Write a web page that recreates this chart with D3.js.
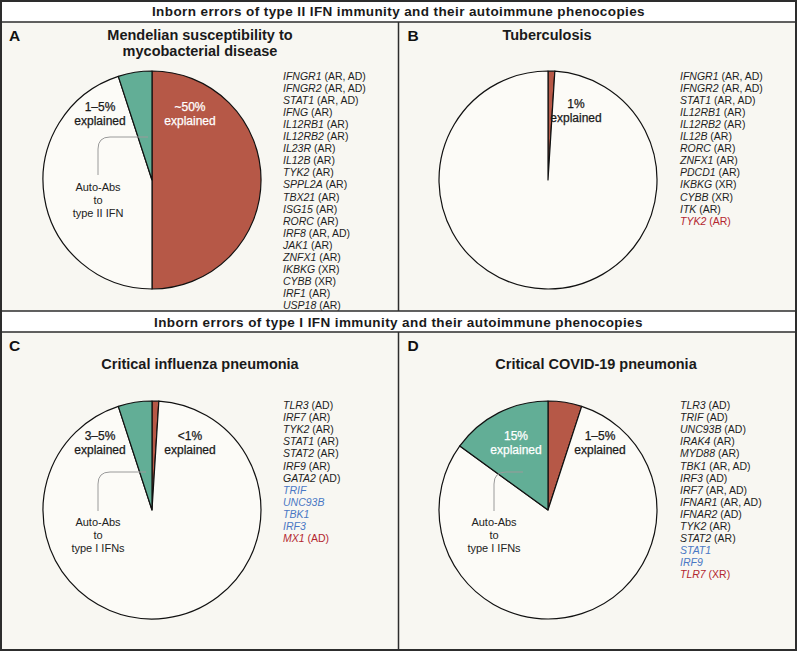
<!DOCTYPE html>
<html><head><meta charset="utf-8">
<script src="https://cdn.jsdelivr.net/npm/d3@7"></script>
<style>
body{margin:0;background:#fff;}
svg{display:block;font-family:"Liberation Sans",Arial,sans-serif;}
</style></head>
<body>
<svg id="chart" width="797" height="651"></svg>
<script>
// ---- DATA ----
const sectionHeaders = [
  "Inborn errors of type II IFN immunity and their autoimmune phenocopies",
  "Inborn errors of type I IFN immunity and their autoimmune phenocopies"
];
const panelLetters = ["A", "B", "C", "D"];
const panelTitles = [
  ["Mendelian susceptibility to", "mycobacterial disease"],
  ["Tuberculosis"],
  ["Critical influenza pneumonia"],
  ["Critical COVID-19 pneumonia"]
];
// slices in clockwise order from 12 o'clock: inborn errors (red), unexplained (white), auto-Abs (teal)
const sliceKeys = ["inborn", "unexplained", "autoAbs"];
const valuesA = [50, 45, 5];
const valuesB = [1, 99, 0];
const valuesC = [1, 94, 5];
const valuesD = [5, 80, 15];
const sliceLabelsA = [["~50%", "explained"], null, ["1–5%", "explained"]];
const sliceLabelsB = [["1%", "explained"], null, null];
const sliceLabelsC = [["<1%", "explained"], null, ["3–5%", "explained"]];
const sliceLabelsD = [["1–5%", "explained"], null, ["15%", "explained"]];
const autoAbsLabels = [["Auto-Abs", "to", "type II IFN"], null, ["Auto-Abs", "to", "type I IFNs"], ["Auto-Abs", "to", "type I IFNs"]];
// gene lists: [gene, inheritance, colour class]
const genesA = [
  ["IFNGR1","AR, AD","k"],["IFNGR2","AR, AD","k"],["STAT1","AR, AD","k"],["IFNG","AR","k"],
  ["IL12RB1","AR","k"],["IL12RB2","AR","k"],["IL23R","AR","k"],["IL12B","AR","k"],
  ["TYK2","AR","k"],["SPPL2A","AR","k"],["TBX21","AR","k"],["ISG15","AR","k"],
  ["RORC","AR","k"],["IRF8","AR, AD","k"],["JAK1","AR","k"],["ZNFX1","AR","k"],
  ["IKBKG","XR","k"],["CYBB","XR","k"],["IRF1","AR","k"],["USP18","AR","k"]
];
const genesB = [
  ["IFNGR1","AR, AD","k"],["IFNGR2","AR, AD","k"],["STAT1","AR, AD","k"],["IL12RB1","AR","k"],
  ["IL12RB2","AR","k"],["IL12B","AR","k"],["RORC","AR","k"],["ZNFX1","AR","k"],
  ["PDCD1","AR","k"],["IKBKG","XR","k"],["CYBB","XR","k"],["ITK","AR","k"],["TYK2","AR","r"]
];
const genesC = [
  ["TLR3","AD","k"],["IRF7","AR","k"],["TYK2","AR","k"],["STAT1","AR","k"],
  ["STAT2","AR","k"],["IRF9","AR","k"],["GATA2","AD","k"],["TRIF","","b"],
  ["UNC93B","","b"],["TBK1","","b"],["IRF3","","b"],["MX1","AD","r"]
];
const genesD = [
  ["TLR3","AD","k"],["TRIF","AD","k"],["UNC93B","AD","k"],["IRAK4","AR","k"],
  ["MYD88","AR","k"],["TBK1","AR, AD","k"],["IRF3","AD","k"],["IRF7","AR, AD","k"],
  ["IFNAR1","AR, AD","k"],["IFNAR2","AD","k"],["TYK2","AR","k"],["STAT2","AR","k"],
  ["STAT1","","b"],["IRF9","","b"],["TLR7","XR","r"]
];

// ---- STYLE / LAYOUT ----
const sliceColors = {inborn:"#b65847", unexplained:"#fcfbf7", autoAbs:"#62ae96"};
const textColors = {k:"#1e1e1e", b:"#4a78c4", r:"#b3262f"};
const bg = "#f8f7f2", lineCol = "#2d2d2d";
const W = 797, H = 651, midX = 398.5;
const bands = [{y:0, h:22}, {y:311, h:21}];
const panels = [
  {x0:0, x1:midX, y0:22, y1:311, cx:152, cy:180, titleX:200, titleY:[35,51], vals:valuesA, sl:sliceLabelsA,
   slPos:[[190,107],null,[100,107]], ab:autoAbsLabels[0], abGeo:{x1:148,y1:137,x2:98,y2:175,ty:187}, genes:genesA, gx:283, gy:79.5},
  {x0:midX, x1:W, y0:22, y1:311, cx:548, cy:180, titleX:547, titleY:[35], vals:valuesB, sl:sliceLabelsB,
   slPos:[[576,104],null,null], ab:null, genes:genesB, gx:680, gy:79.5},
  {x0:0, x1:midX, y0:332, y1:H, cx:152, cy:510, titleX:200, titleY:[364], vals:valuesC, sl:sliceLabelsC,
   slPos:[[190,436],null,[100,436]], ab:autoAbsLabels[2], abGeo:{x1:146,y1:472,x2:98,y2:511,ty:522}, genes:genesC, gx:283, gy:409},
  {x0:midX, x1:W, y0:332, y1:H, cx:548, cy:510, titleX:596, titleY:[364], vals:valuesD, sl:sliceLabelsD,
   slPos:[[600,436],null,[516,436]], ab:autoAbsLabels[3], abGeo:{x1:523,y1:472,x2:494,y2:511,ty:522}, genes:genesD, gx:680, gy:409}
];
const R = 109;

const svg = d3.select("#chart");
svg.append("rect").attr("width",W).attr("height",H).attr("fill",bg);

// header bands
bands.forEach((b,i)=>{
  svg.append("rect").attr("x",0).attr("y",b.y).attr("width",W).attr("height",b.h).attr("fill","#fff");
  svg.append("text").attr("x",W/2).attr("y",b.y+b.h/2+5).attr("text-anchor","middle")
    .attr("font-weight","bold").attr("font-size",13.5).attr("letter-spacing",0.4).attr("fill","#1a1a1a")
    .text(sectionHeaders[i]);
});

const pie = d3.pie().sort(null).value(d=>d);
const arc = d3.arc().innerRadius(0).outerRadius(R);

panels.forEach((p,pi)=>{
  const g = svg.append("g");
  g.append("text").attr("x",p.x0+9).attr("y",p.y0+19).attr("font-weight","bold").attr("font-size",15.5)
    .attr("fill","#111").text(panelLetters[pi]);
  panelTitles[pi].forEach((t,i)=>{
    g.append("text").attr("x",p.titleX).attr("y",p.titleY[i]+5).attr("text-anchor","middle")
      .attr("font-weight","bold").attr("font-size",14.5).attr("fill","#1a1a1a").text(t);
  });
  const pg = g.append("g").attr("transform",`translate(${p.cx},${p.cy})`);
  const arcs = pie(p.vals);
  pg.selectAll("path").data(arcs.filter(a=>a.data>0)).join("path")
    .attr("d",arc).attr("fill",(d)=>sliceColors[sliceKeys[d.index]])
    .attr("stroke","#111").attr("stroke-width",1.2).attr("stroke-linejoin","round");
  // slice labels
  p.sl.forEach((lab,i)=>{
    if(!lab) return;
    const [lx,ly] = p.slPos[i];
    const col = (i===0 && pi===0) || (i===2 && pi===3) ? "#fff" : "#1a1a1a";
    lab.forEach((t,j)=>{
      g.append("text").attr("x",lx).attr("y",ly+j*13.5+4).attr("text-anchor","middle")
        .attr("font-size",12).attr("fill",col)
        .attr("stroke",col).attr("stroke-width",0.25).text(t);
    });
  });
  // auto-abs callout
  if(p.ab){
    const a = p.abGeo, rr = 12;
    g.append("path").attr("d",`M${a.x1},${a.y1} H${a.x2+rr} Q${a.x2},${a.y1} ${a.x2},${a.y1+rr} V${a.y2}`)
      .attr("fill","none").attr("stroke","#9a9a9a").attr("stroke-width",1);
    p.ab.forEach((t,j)=>{
      g.append("text").attr("x",a.x2).attr("y",a.ty+j*12.8+4).attr("text-anchor","middle")
        .attr("font-size",11).attr("fill","#222").text(t);
    });
  }
  // gene list
  p.genes.forEach((gn,i)=>{
    const t = g.append("text").attr("x",p.gx).attr("y",p.gy+i*12.1).attr("font-size",10.5)
      .attr("fill",textColors[gn[2]]);
    t.append("tspan").attr("font-style","italic").text(gn[0]);
    if(gn[1]) t.append("tspan").text(" (" + gn[1] + ")");
  });
});

// frame lines
const lines = [
  [0,22,W,22],[0,311,W,311],[0,332,W,332],
  [midX,22,midX,311],[midX,332,midX,H]
];
lines.forEach(l=>svg.append("line").attr("x1",l[0]).attr("y1",l[1]).attr("x2",l[2]).attr("y2",l[3])
  .attr("stroke",lineCol).attr("stroke-width",1.5));
svg.append("rect").attr("x",1).attr("y",1).attr("width",W-2).attr("height",H-2)
  .attr("fill","none").attr("stroke",lineCol).attr("stroke-width",2);
</script>
</body></html>
